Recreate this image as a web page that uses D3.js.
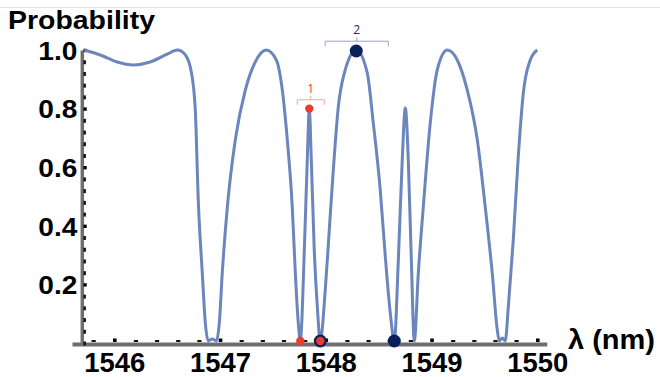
<!DOCTYPE html>
<html>
<head>
<meta charset="utf-8">
<script src="https://cdn.jsdelivr.net/npm/d3@7/dist/d3.min.js"></script>
<style>
  html, body { margin: 0; padding: 0; background: #fff; }
  svg { display: block; }
  text { font-family: "Liberation Sans", Arial, Helvetica, sans-serif; }
</style>
</head>
<body>
<svg id="chart" width="660" height="377"></svg>
<script>
// ---- data ----
const lambda = [
  1545.716, 1545.868, 1546.028, 1546.180, 1546.340, 1546.501, 1546.596, 1546.671, 1546.728, 1546.766,
  1546.794, 1546.832, 1546.861, 1546.889, 1546.927, 1546.965, 1546.993, 1547.021, 1547.069, 1547.144,
  1547.239, 1547.333, 1547.437, 1547.532, 1547.589, 1547.636, 1547.683, 1547.712, 1547.740, 1547.759,
  1547.797, 1547.825, 1547.844, 1547.863, 1547.891, 1547.920, 1547.948, 1547.995, 1548.033, 1548.071,
  1548.118, 1548.184, 1548.288, 1548.392, 1548.449, 1548.515, 1548.563, 1548.610, 1548.648, 1548.686,
  1548.723, 1548.752, 1548.780, 1548.809, 1548.837, 1548.875, 1548.922, 1548.988, 1549.054, 1549.149,
  1549.243, 1549.338, 1549.433, 1549.508, 1549.574, 1549.622, 1549.641, 1549.669, 1549.697, 1549.726,
  1549.773, 1549.820, 1549.868, 1549.934, 1550.000
];
const probability = [
  1.000, 0.983, 0.959, 0.949, 0.959, 0.986, 1.000, 0.984, 0.925, 0.795,
  0.488, 0.239, 0.068, 0.007, 0.014, 0.007, 0.068, 0.239, 0.464, 0.693,
  0.863, 0.959, 1.000, 0.966, 0.863, 0.693, 0.464, 0.239, 0.068, 0.007,
  0.317, 0.625, 0.799, 0.625, 0.317, 0.123, 0.007, 0.181, 0.386, 0.590,
  0.805, 0.932, 1.000, 0.922, 0.751, 0.522, 0.294, 0.102, 0.007, 0.283,
  0.625, 0.802, 0.625, 0.283, 0.007, 0.239, 0.464, 0.751, 0.932, 1.000,
  0.966, 0.863, 0.693, 0.464, 0.239, 0.044, 0.007, 0.017, 0.007, 0.123,
  0.352, 0.635, 0.853, 0.966, 1.000
];
// marked points: set 1 (red) and set 2 (navy)
const set1Lambda = [1547.759, 1547.844, 1547.948];
const set1Prob   = [0.0, 0.80, 0.0];
const set2Lambda = [1547.948, 1548.288, 1548.648];
const set2Prob   = [0.0, 1.0, 0.0];
// annotation brackets
const bracketLabels = ["1", "2"];
const bracketFrom   = [1547.730, 1547.995];
const bracketTo     = [1547.986, 1548.591];
const bracketProb   = [0.830, 1.030];
// ticks
const xMajorTicks = [1546, 1547, 1548, 1549, 1550];
const xMinorTicks = [1545.8,1546.2,1546.4,1546.6,1546.8,1547.2,1547.4,1547.6,1547.8,1548.2,1548.4,1548.6,1548.8,1549.2,1549.4,1549.6,1549.8];
const yMajorTicks = [0.2, 0.4, 0.6, 0.8, 1.0];
const yMinorTicks = [0,0.04,0.08,0.12,0.16,0.24,0.28,0.32,0.36,0.44,0.48,0.52,0.56,0.64,0.68,0.72,0.76,0.84,0.88,0.92,0.96];
const yTitle = "Probability";
const xTitle = "λ (nm)";

// ---- drawing ----
const svg = d3.select("#chart");
const x = d3.scaleLinear().domain([1545.6, 1550.09]).range([72, 546.8]);
const y = d3.scaleLinear().domain([0, 1]).range([343, 50]);

// faint top rule
svg.append("line").attr("x1", 0).attr("x2", 660).attr("y1", 7.5).attr("y2", 7.5)
  .attr("stroke", "#e2e2e2").attr("stroke-width", 1);

const axisX0 = 344;
const axisY0 = 81.8;

// x axis line (gray)
const gxLine = svg.append("g").attr("transform", `translate(0,${axisX0})`)
  .call(d3.axisBottom(x).tickValues([]).tickSizeOuter(0));
gxLine.select(".domain").attr("stroke", "#6f6f6f").attr("stroke-width", 4);

// x minor ticks
const gxMinor = svg.append("g").attr("transform", `translate(0,${axisX0 - 2})`)
  .call(d3.axisTop(x).tickValues(xMinorTicks).tickSize(2).tickFormat(""));
gxMinor.select(".domain").remove();
gxMinor.selectAll(".tick line").attr("stroke", "#111").attr("stroke-width", 4.2);

// x major ticks
const gxMajor = svg.append("g").attr("transform", `translate(0,${axisX0 - 2})`)
  .call(d3.axisTop(x).tickValues(xMajorTicks).tickSize(3.5).tickFormat(""));
gxMajor.select(".domain").remove();
gxMajor.selectAll(".tick line").attr("stroke", "#000").attr("stroke-width", 3.6);

// x labels
const gxLab = svg.append("g").attr("transform", `translate(0,${axisX0})`)
  .call(d3.axisBottom(x).tickValues(xMajorTicks).tickSize(0).tickPadding(0).tickFormat(d3.format("d")));
gxLab.select(".domain").remove();
gxLab.selectAll(".tick text")
  .attr("y", 0).attr("dy", 0).attr("transform", "translate(0,28)")
  .attr("font-size", 27).attr("font-weight", "bold").attr("fill", "#000")
  .attr("textLength", 61).attr("lengthAdjust", "spacingAndGlyphs")
  .style("font-family", '"Liberation Sans", Arial, sans-serif');

// y axis line (gray)
const gyLine = svg.append("g").attr("transform", `translate(${axisY0},0)`)
  .call(d3.axisLeft(y).tickValues([]).tickSizeOuter(0));
gyLine.select(".domain").attr("stroke", "#6f6f6f").attr("stroke-width", 3.5);

// y minor ticks
const gyMinor = svg.append("g").attr("transform", `translate(${axisY0 + 1.7},0)`)
  .call(d3.axisRight(y).tickValues(yMinorTicks).tickSize(2.4).tickFormat(""));
gyMinor.select(".domain").remove();
gyMinor.selectAll(".tick line").attr("stroke", "#111").attr("stroke-width", 4);

// y major ticks
const gyMajor = svg.append("g").attr("transform", `translate(${axisY0 + 1.7},0)`)
  .call(d3.axisRight(y).tickValues(yMajorTicks).tickSize(3.2).tickFormat(""));
gyMajor.select(".domain").remove();
gyMajor.selectAll(".tick line").attr("stroke", "#000").attr("stroke-width", 3.4);

// y labels
const gyLab = svg.append("g").attr("transform", `translate(${axisY0},0)`)
  .call(d3.axisLeft(y).tickValues(yMajorTicks).tickSize(0).tickPadding(4.5).tickFormat(d3.format(".1f")));
gyLab.select(".domain").remove();
gyLab.selectAll(".tick text")
  .attr("dy", "0.36em")
  .attr("font-size", 26).attr("font-weight", "bold").attr("fill", "#000")
  .attr("textLength", 39).attr("lengthAdjust", "spacingAndGlyphs")
  .style("font-family", '"Liberation Sans", Arial, sans-serif');

// titles
svg.append("text").attr("x", 8).attr("y", 28.5)
  .attr("font-size", 26).attr("font-weight", "bold").attr("fill", "#000")
  .attr("textLength", 147).attr("lengthAdjust", "spacingAndGlyphs")
  .text(yTitle);
svg.append("text").attr("x", 568).attr("y", 349)
  .attr("font-size", 27).attr("font-weight", "bold").attr("fill", "#000")
  .attr("textLength", 87).attr("lengthAdjust", "spacingAndGlyphs")
  .text(xTitle);

// curve
const curveData = lambda.map((l, i) => ({ l, p: probability[i] }));
const line = d3.line().x(d => x(d.l)).y(d => y(d.p)).curve(d3.curveMonotoneX);
svg.append("path").datum(curveData)
  .attr("d", line)
  .attr("fill", "none").attr("stroke", "#6a86bc").attr("stroke-width", 3)
  .attr("stroke-linejoin", "round");

// brackets
const bracketColors = ["#f2a39c", "#9aa3c4"];
const labelColors = ["#e8392a", "#1b2a5e"];
bracketLabels.forEach((lab, i) => {
  const x1 = x(bracketFrom[i]), x2 = x(bracketTo[i]), yy = y(bracketProb[i]);
  const xm = (x1 + x2) / 2;
  svg.append("path")
    .attr("d", `M${x1},${yy + 5}V${yy}H${x2}V${yy + 5}M${xm},${yy}V${yy - 4}`)
    .attr("fill", "none").attr("stroke", bracketColors[i]).attr("stroke-width", 1);
  svg.append("text").attr("x", xm).attr("y", yy - 7)
    .attr("text-anchor", "middle").attr("font-size", 12)
    .style("font-family", '"Open Sans", "Noto Sans", sans-serif')
    .attr("fill", labelColors[i]).text(lab);
});

// points: navy set first, then red on top
const set2 = set2Lambda.map((l, i) => ({ l, p: set2Prob[i] }));
svg.append("g").selectAll("circle").data(set2).join("circle")
  .attr("cx", d => x(d.l)).attr("cy", d => y(d.p) - (d.p === 0 ? 2 : -1))
  .attr("r", 6.5).attr("fill", "#0b1f5c");
const set1 = set1Lambda.map((l, i) => ({ l, p: set1Prob[i] }));
svg.append("g").selectAll("circle").data(set1).join("circle")
  .attr("cx", d => x(d.l)).attr("cy", d => y(d.p) - (d.p === 0 ? 2 : 0))
  .attr("r", 4.2).attr("fill", "#ea3b2b");
</script>
</body>
</html>
